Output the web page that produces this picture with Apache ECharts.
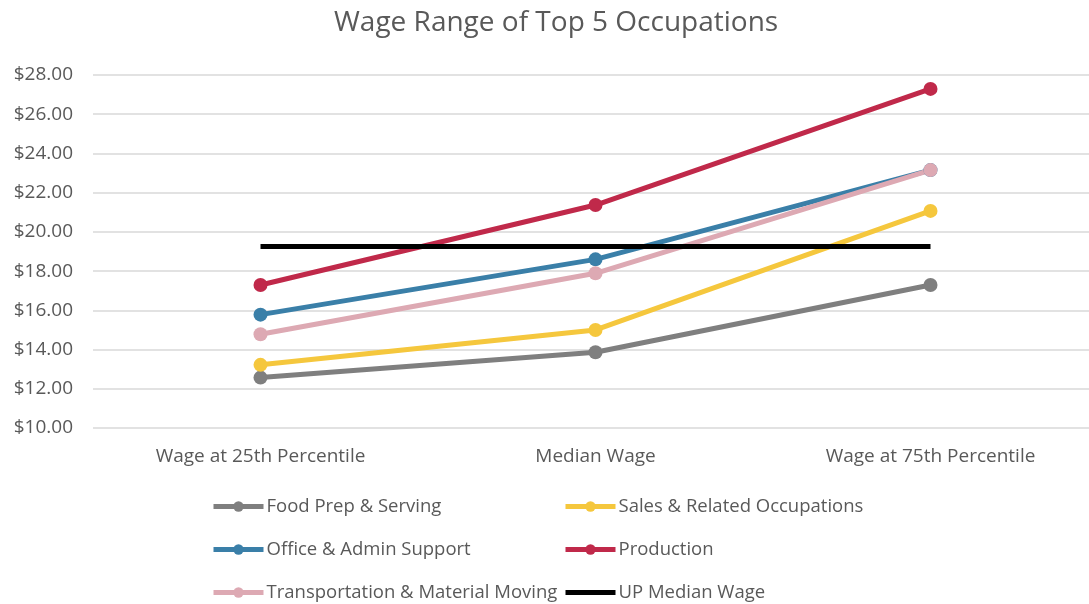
<!DOCTYPE html>
<html>
<head>
<meta charset="utf-8">
<script src="https://cdn.jsdelivr.net/npm/echarts@6/dist/echarts.min.js"></script>
<style>
  html, body { margin: 0; padding: 0; background: #fff; }
  #chart { width: 1089px; height: 604px; }
</style>
</head>
<body>
<div id="chart"></div>
<script>
const categories = ['Wage at 25th Percentile', 'Median Wage', 'Wage at 75th Percentile'];
const foodPrep = [12.57, 13.86, 17.29];
const sales = [13.22, 15.0, 21.07];
const officeAdmin = [15.78, 18.6, 23.15];
const production = [17.29, 21.37, 27.29];
const transportation = [14.78, 17.89, 23.15];
const upMedian = [19.25, 19.25, 19.25];

const font = '"Open Sans", Lato, sans-serif';
const textColor = '#595959';

const lineSeries = (name, data, color, withMarker) => ({
    name, data, type: 'line',
    symbol: withMarker ? 'circle' : 'none',
    symbolSize: 14,
    itemStyle: { color },
    lineStyle: { color, width: 5 },
    emphasis: { disabled: true }
});

const legendBase = {
    orient: 'vertical', top: 497, padding: 0,
    itemWidth: 50, itemHeight: 13, itemGap: 24,
    lineStyle: { width: 5 },
    textStyle: { color: textColor, fontSize: 18.5, lineHeight: 18, fontFamily: font, padding: [0, 0, 0, -2] }
};

const chart = echarts.init(document.getElementById('chart'));
chart.setOption({
    animation: false,
    textStyle: { fontFamily: font },
    title: {
        text: 'Wage Range of Top 5 Occupations',
        left: 329, top: 4,
        textStyle: { color: textColor, fontSize: 28, fontWeight: 'normal', fontFamily: font }
    },
    grid: { left: 93, width: 1005, top: 75, height: 353, containLabel: false, outerBoundsMode: 'none' },
    legend: [
        Object.assign({}, legendBase, {
            data: ['Food Prep & Serving', 'Office & Admin Support', 'Transportation & Material Moving'],
            left: 211
        }),
        Object.assign({}, legendBase, {
            data: ['Sales & Related Occupations', 'Production',
                { name: 'UP Median Wage', itemStyle: { opacity: 0 } }],
            left: 563
        })
    ],
    xAxis: {
        type: 'category', data: categories,
        axisLine: { show: false }, axisTick: { show: false },
        axisLabel: { color: textColor, fontSize: 19, margin: 19, fontFamily: font }
    },
    yAxis: {
        type: 'value', min: 10, max: 28, interval: 2,
        axisLabel: { color: textColor, fontSize: 19, margin: 20, fontFamily: font,
            formatter: v => '$' + v.toFixed(2) },
        splitLine: { lineStyle: { color: '#d9d9d9', width: 1.5 } }
    },
    series: [
        lineSeries('Food Prep & Serving', foodPrep, '#7f7f7f', true),
        lineSeries('Sales & Related Occupations', sales, '#f5c73d', true),
        lineSeries('Office & Admin Support', officeAdmin, '#3a7fa8', true),
        lineSeries('Production', production, '#c0294a', true),
        lineSeries('Transportation & Material Moving', transportation, '#dda9b3', true),
        lineSeries('UP Median Wage', upMedian, '#000000', false)
    ]
});
</script>
</body>
</html>
